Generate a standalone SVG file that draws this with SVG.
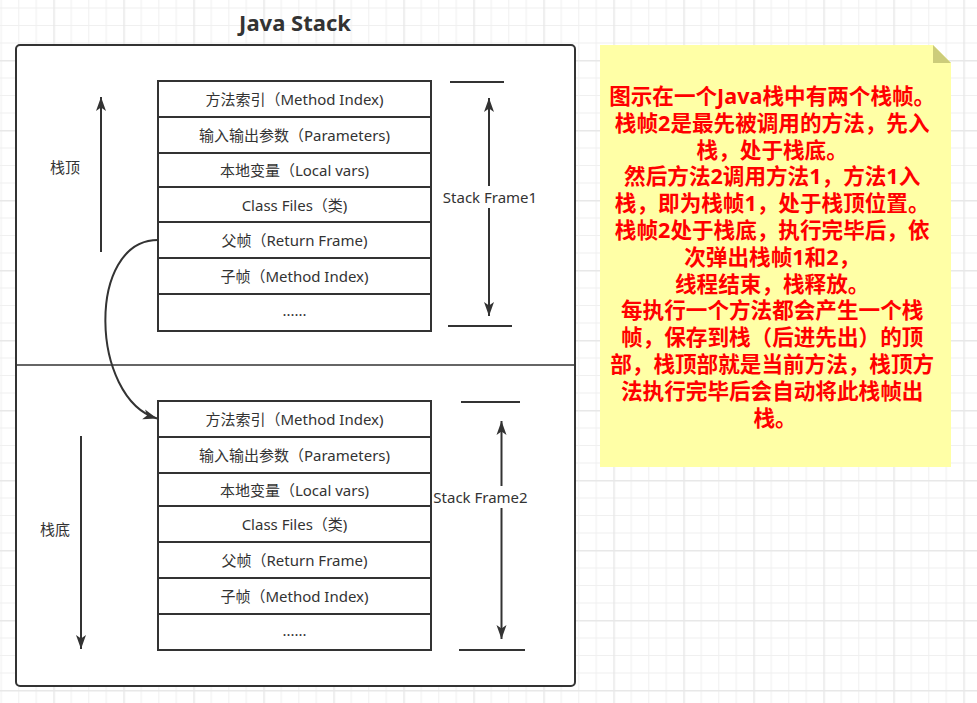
<svg xmlns="http://www.w3.org/2000/svg" width="977" height="703" viewBox="0 0 977 703">
<defs>
<pattern id="grid" x="53.3" y="60" width="70" height="70" patternUnits="userSpaceOnUse">
<rect width="70" height="70" fill="#ffffff"/>
<g fill="#f0f0f0">
<rect x="17.5" y="0" width="1" height="70"/><rect x="35" y="0" width="1" height="70"/><rect x="52.5" y="0" width="1" height="70"/>
<rect x="0" y="17.5" width="70" height="1"/><rect x="0" y="35" width="70" height="1"/><rect x="0" y="52.5" width="70" height="1"/>
</g>
<g fill="#e8e8e8"><rect x="0" y="0" width="1.5" height="70"/><rect x="0" y="0" width="70" height="1.5"/></g>
</pattern>
<marker id="arr" markerUnits="userSpaceOnUse" markerWidth="15" markerHeight="11" refX="14" refY="5.5" orient="auto-start-reverse" viewBox="0 0 15 11">
<path d="M0,0.5 L14,5.5 L0,10.5 L3.5,5.5 z" fill="#333333"/>
</marker>
<style>
.ln{stroke:#333333;stroke-width:2;fill:none}
.cell{fill:#ffffff;stroke:#333333;stroke-width:2}
.t{font-family:"Noto Sans","Noto Sans CJK SC",sans-serif;font-size:15px;fill:#333333;text-anchor:middle;dominant-baseline:central}
.note{font-family:"Noto Sans","Noto Sans CJK SC",sans-serif;font-size:21.6px;font-weight:bold;fill:#ff0000;text-anchor:middle;dominant-baseline:central}
</style>
</defs>
<rect width="977" height="703" fill="url(#grid)"/>

<g id="title"><text x="295" y="22" class="t" style="font-size:22px;font-weight:bold">Java Stack</text></g>

<g id="outer">
<rect x="16" y="45" width="559" height="641" rx="4" class="cell"/>
<line x1="16" y1="365" x2="575" y2="365" class="ln" style="stroke-width:1.5"/>
</g>

<g id="frame1">
<rect x="158" y="81" width="273" height="36" class="cell"/>
<rect x="158" y="117" width="273" height="36" class="cell"/>
<rect x="158" y="153" width="273" height="34" class="cell"/>
<rect x="158" y="187" width="273" height="35" class="cell"/>
<rect x="158" y="222" width="273" height="36" class="cell"/>
<rect x="158" y="258" width="273" height="36" class="cell"/>
<rect x="158" y="294" width="273" height="37" class="cell"/>
<text x="294.5" y="99" class="t">方法索引（Method Index)</text>
<text x="294.5" y="135" class="t">输入输出参数（Parameters)</text>
<text x="294.5" y="170" class="t">本地变量（Local vars)</text>
<text x="294.5" y="204.5" class="t">Class Files（类)</text>
<text x="294.5" y="240" class="t">父帧（Return Frame)</text>
<text x="294.5" y="276" class="t">子帧（Method Index)</text>
<text x="294.5" y="310" class="t">......</text>
</g>

<g id="frame2">
<rect x="158" y="401" width="273" height="36" class="cell"/>
<rect x="158" y="437" width="273" height="36" class="cell"/>
<rect x="158" y="473" width="273" height="33" class="cell"/>
<rect x="158" y="506" width="273" height="36" class="cell"/>
<rect x="158" y="542" width="273" height="36" class="cell"/>
<rect x="158" y="578" width="273" height="36" class="cell"/>
<rect x="158" y="614" width="273" height="36" class="cell"/>
<text x="294.5" y="419" class="t">方法索引（Method Index)</text>
<text x="294.5" y="455" class="t">输入输出参数（Parameters)</text>
<text x="294.5" y="489.5" class="t">本地变量（Local vars)</text>
<text x="294.5" y="524" class="t">Class Files（类)</text>
<text x="294.5" y="560" class="t">父帧（Return Frame)</text>
<text x="294.5" y="596" class="t">子帧（Method Index)</text>
<text x="294.5" y="630" class="t">......</text>
</g>

<g id="label-top"><text x="65" y="167" class="t">栈顶</text></g>
<g id="label-bottom"><text x="55" y="529" class="t">栈底</text></g>

<g id="connectors">
<line x1="450" y1="82" x2="504" y2="82" class="ln"/>
<line x1="448" y1="326" x2="512" y2="326" class="ln"/>
<line x1="489" y1="98" x2="489" y2="316" class="ln" marker-start="url(#arr)" marker-end="url(#arr)"/>
<line x1="461" y1="402" x2="520" y2="402" class="ln"/>
<line x1="459" y1="650" x2="525" y2="650" class="ln"/>
<line x1="501.5" y1="421" x2="501.5" y2="639" class="ln" marker-start="url(#arr)" marker-end="url(#arr)"/>
<line x1="101" y1="252" x2="101" y2="97" class="ln" marker-end="url(#arr)"/>
<line x1="81" y1="436" x2="81" y2="649" class="ln" marker-end="url(#arr)"/>
<path d="M158,240 C86,240 90,398 157,418.5" class="ln" marker-end="url(#arr)"/>
</g>

<g id="frame1-label">
<rect x="442" y="186" width="96" height="22" fill="#ffffff"/>
<text x="490" y="197" class="t">Stack Frame1</text>
</g>
<g id="frame2-label">
<rect x="433" y="486" width="96" height="22" fill="#ffffff"/>
<text x="480.5" y="497" class="t">Stack Frame2</text>
</g>

<g id="note">
<path d="M600,45 H933 L951,63 V467 H600 Z" fill="#ffffa6"/>
<path d="M933,45 L951,63 H933 Z" fill="#cccc7a"/>
<text class="note">
<tspan x="775" y="95">图示在一个Java栈中有两个栈帧。</tspan>
<tspan x="775" y="121.8">栈帧2是最先被调用的方法，先入</tspan>
<tspan x="775" y="148.6">栈，处于栈底。</tspan>
<tspan x="775" y="175.4">然后方法2调用方法1，方法1入</tspan>
<tspan x="775" y="202.2">栈，即为栈帧1，处于栈顶位置。</tspan>
<tspan x="775" y="229">栈帧2处于栈底，执行完毕后，依</tspan>
<tspan x="775" y="255.8">次弹出栈帧1和2，</tspan>
<tspan x="775" y="282.6">线程结束，栈释放。</tspan>
<tspan x="775" y="309.4">每执行一个方法都会产生一个栈</tspan>
<tspan x="775" y="336.2">帧，保存到栈（后进先出）的顶</tspan>
<tspan x="775" y="363">部，栈顶部就是当前方法，栈顶方</tspan>
<tspan x="775" y="389.8">法执行完毕后会自动将此栈帧出</tspan>
<tspan x="775" y="416.6">栈。</tspan>
</text>
</g>
</svg>
